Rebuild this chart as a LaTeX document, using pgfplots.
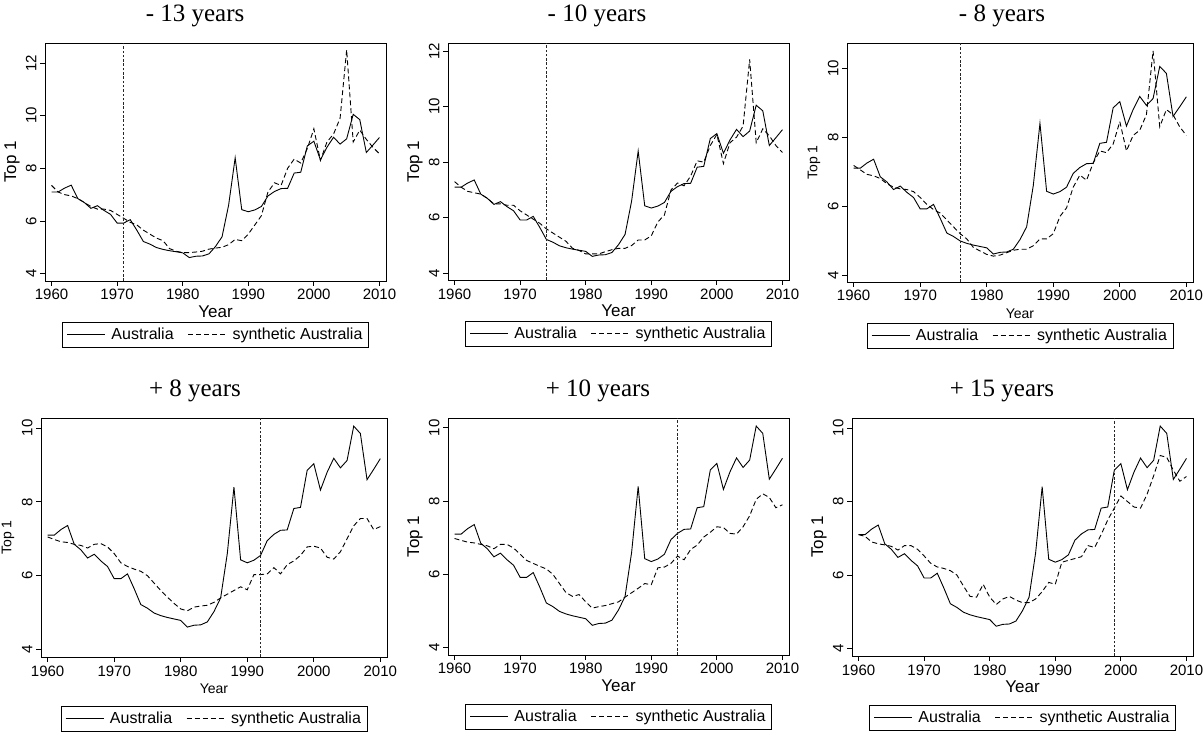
\documentclass[border=0pt]{standalone}
\usepackage{fontspec}
\setmainfont{Liberation Sans}
\newfontfamily\titlefont{Liberation Serif}
\usepackage{pgfplots}
\pgfplotsset{compat=1.18}
\usepackage{pgfplotstable}

% Top 1% income share: Australia and its synthetic controls for
% different placebo / treatment dates
\pgfplotstableread{
year aus s13 s10 s8 p8 p10 p15
1960 7.10 7.35 7.30 7.18 7.05 6.98 7.10
1961 7.10 7.10 7.10 7.05 6.98 6.93 7.05
1962 7.25 7.00 6.95 6.92 6.92 6.88 6.90
1963 7.36 6.95 6.90 6.88 6.90 6.86 6.85
1964 6.85 6.85 6.85 6.80 6.85 6.82 6.82
1965 6.70 6.70 6.70 6.65 6.82 6.78 6.78
1966 6.48 6.55 6.50 6.55 6.75 6.70 6.68
1967 6.58 6.45 6.50 6.50 6.85 6.82 6.80
1968 6.40 6.45 6.45 6.48 6.87 6.82 6.80
1969 6.25 6.40 6.45 6.42 6.78 6.72 6.70
1970 5.92 6.25 6.25 6.25 6.60 6.55 6.52
1971 5.92 6.10 6.10 6.05 6.35 6.38 6.32
1972 6.05 5.95 5.95 5.90 6.25 6.30 6.22
1973 5.65 5.85 5.80 5.80 6.18 6.22 6.18
1974 5.22 5.65 5.60 5.60 6.12 6.15 6.12
1975 5.12 5.50 5.45 5.40 6.00 6.00 6.00
1976 4.99 5.35 5.30 5.20 5.80 5.75 5.70
1977 4.92 5.25 5.15 5.05 5.60 5.50 5.42
1978 4.87 4.95 4.90 4.80 5.42 5.40 5.40
1979 4.83 4.85 4.82 4.70 5.25 5.45 5.75
1980 4.79 4.80 4.70 4.60 5.10 5.25 5.40
1981 4.61 4.80 4.70 4.55 5.05 5.08 5.20
1982 4.66 4.82 4.70 4.58 5.15 5.12 5.35
1983 4.67 4.85 4.78 4.65 5.18 5.15 5.42
1984 4.75 4.93 4.85 4.72 5.20 5.20 5.32
1985 5.03 4.97 4.90 4.75 5.28 5.25 5.25
1986 5.40 5.00 4.90 4.75 5.40 5.38 5.25
1987 6.60 5.10 5.00 4.85 5.50 5.50 5.35
1988 8.40 5.30 5.20 5.05 5.60 5.62 5.55
1989 6.43 5.25 5.20 5.05 5.70 5.75 5.80
1990 6.35 5.50 5.35 5.20 5.62 5.72 5.75
1991 6.42 5.85 5.85 5.70 6.03 6.18 6.35
1992 6.55 6.20 6.10 5.95 6.03 6.20 6.40
1993 6.95 7.10 7.00 6.55 6.05 6.30 6.45
1994 7.12 7.45 7.25 6.90 6.22 6.50 6.50
1995 7.23 7.35 7.15 6.75 6.05 6.40 6.80
1996 7.24 8.00 7.50 7.25 6.30 6.68 6.75
1997 7.82 8.35 8.05 7.60 6.40 6.80 7.10
1998 7.85 8.20 8.00 7.55 6.55 7.02 7.50
1999 8.85 8.75 8.60 7.80 6.78 7.15 7.82
2000 9.03 9.50 9.00 8.45 6.80 7.30 8.15
2001 8.32 8.30 7.95 7.60 6.75 7.28 8.00
2002 8.80 9.00 8.70 8.05 6.50 7.12 7.85
2003 9.18 9.30 8.90 8.20 6.45 7.10 7.82
2004 8.92 9.90 9.30 8.65 6.65 7.30 8.20
2005 9.12 12.50 11.70 10.50 7.00 7.60 8.70
2006 10.05 9.00 8.70 8.30 7.35 8.05 9.25
2007 9.85 9.45 9.20 8.80 7.55 8.20 9.20
2008 8.60 9.10 8.95 8.65 7.55 8.10 8.85
2009 8.88 8.80 8.60 8.30 7.25 7.82 8.55
2010 9.17 8.55 8.35 8.05 7.33 7.90 8.68
}\topdata

\pgfplotsset{
  aus/.style={black, line width=0.9pt},
  synth/.style={black, line width=0.9pt, dash pattern=on 5pt off 3pt},
  vline/.style={black!85, line width=0.8pt, dash pattern=on 2.5pt off 1.8pt, forget plot},
  panel/.style={
    scale only axis,
    anchor=north west,
    xmin=1959, xmax=2011,
    xtick={1960,1970,...,2010},
    tick align=outside, tick pos=left,
    major tick length=5pt,
    axis line style={line width=0.9pt},
    every tick/.style={black, line width=0.8pt},
    /pgf/number format/assume math mode=true,
    /pgf/number format/1000 sep={},
    ticklabel style={font=\fontsize{15}{18}\selectfont},
    yticklabel style={rotate=90, anchor=south},
    xlabel={Year}, ylabel={Top 1},
    label style={font=\fontsize{17}{20}\selectfont},
    xlabel style={at={([yshift=-37pt]axis description cs:0.5,0)}, anchor=base},
    ylabel style={at={([xshift=-33pt]axis description cs:0,0.5)}, anchor=center},
    title style={font=\titlefont\fontsize{25}{29}\selectfont, anchor=base},
    legend columns=2,
    legend cell align=left,
    legend image code/.code={\draw[#1] (0pt,0pt) -- (38pt,0pt);},
    legend style={draw=black, line width=0.8pt,
      font=\fontsize{16}{19}\selectfont,
      inner xsep=4pt, inner ysep=4pt,
      anchor=north,
      /tikz/every odd column/.append style={column sep=4pt},
      /tikz/every even column/.append style={column sep=12pt}},
  },
  small labels/.style={label style={font=\fontsize{14}{17}\selectfont}},
}

\begin{document}
\begin{tikzpicture}
\path[use as bounding box] (0pt,0pt) rectangle (1203pt,738pt);

% ---------- top row: placebo dates ----------
\begin{axis}[panel, at={(45pt,695pt)}, width=341pt, height=238pt,
  ymin=3.72, ymax=12.76, ytick={4,6,8,10,12},
  title={- 13 years},
  title style={at={([yshift=15pt]axis description cs:0.44,1)}},
  legend style={at={([yshift=-41pt]axis description cs:0.5,0)}}]
\addplot[aus] table[x=year, y=aus] {\topdata};
\addplot[synth] table[x=year, y=s13] {\topdata};
\addplot[vline] coordinates {(1971,3.72) (1971,12.76)};
\legend{Australia, synthetic Australia}
\end{axis}

\begin{axis}[panel, at={(448pt,695pt)}, width=341pt, height=237pt,
  ymin=3.76, ymax=12.29, ytick={4,6,8,10,12},
  title={- 10 years},
  title style={at={([yshift=15pt]axis description cs:0.437,1)}},
  legend style={at={([yshift=-41pt]axis description cs:0.5,0)}}]
\addplot[aus] table[x=year, y=aus] {\topdata};
\addplot[synth] table[x=year, y=s10] {\topdata};
\addplot[vline] coordinates {(1974,3.76) (1974,12.29)};
\legend{Australia, synthetic Australia}
\end{axis}

\begin{axis}[panel, small labels, at={(847pt,695pt)}, width=346pt, height=239pt,
  ymin=3.8, ymax=10.73, ytick={4,6,8,10},
  title={- 8 years},
  title style={at={([yshift=15pt]axis description cs:0.448,1)}},
  legend style={at={([yshift=-41pt]axis description cs:0.5,0)}}]
\addplot[aus] table[x=year, y=aus] {\topdata};
\addplot[synth] table[x=year, y=s8] {\topdata};
\addplot[vline] coordinates {(1976,3.8) (1976,10.73)};
\legend{Australia, synthetic Australia}
\end{axis}

% ---------- bottom row: later dates ----------
\begin{axis}[panel, small labels, at={(41pt,320pt)}, width=346pt, height=239pt,
  ymin=3.8, ymax=10.27, ytick={4,6,8,10},
  title={+ 8 years},
  title style={at={([yshift=15pt]axis description cs:0.445,1)}},
  legend style={at={([yshift=-49pt]axis description cs:0.5,0)}}]
\addplot[aus] table[x=year, y=aus] {\topdata};
\addplot[synth] table[x=year, y=p8] {\topdata};
\addplot[vline] coordinates {(1992,3.8) (1992,10.27)};
\legend{Australia, synthetic Australia}
\end{axis}

\begin{axis}[panel, at={(448pt,320pt)}, width=341pt, height=237pt,
  ymin=3.8, ymax=10.27, ytick={4,6,8,10},
  title={+ 10 years},
  title style={at={([yshift=15pt]axis description cs:0.44,1)}},
  legend style={at={([yshift=-49pt]axis description cs:0.5,0)}}]
\addplot[aus] table[x=year, y=aus] {\topdata};
\addplot[synth] table[x=year, y=p10] {\topdata};
\addplot[vline] coordinates {(1994,3.8) (1994,10.27)};
\legend{Australia, synthetic Australia}
\end{axis}

\begin{axis}[panel, at={(852pt,320pt)}, width=341pt, height=238pt,
  ymin=3.8, ymax=10.27, ytick={4,6,8,10},
  title={+ 15 years},
  title style={at={([yshift=15pt]axis description cs:0.44,1)}},
  legend style={at={([yshift=-49pt]axis description cs:0.5,0)}}]
\addplot[aus] table[x=year, y=aus] {\topdata};
\addplot[synth] table[x=year, y=p15] {\topdata};
\addplot[vline] coordinates {(1999,3.8) (1999,10.27)};
\legend{Australia, synthetic Australia}
\end{axis}
\end{tikzpicture}
\end{document}
